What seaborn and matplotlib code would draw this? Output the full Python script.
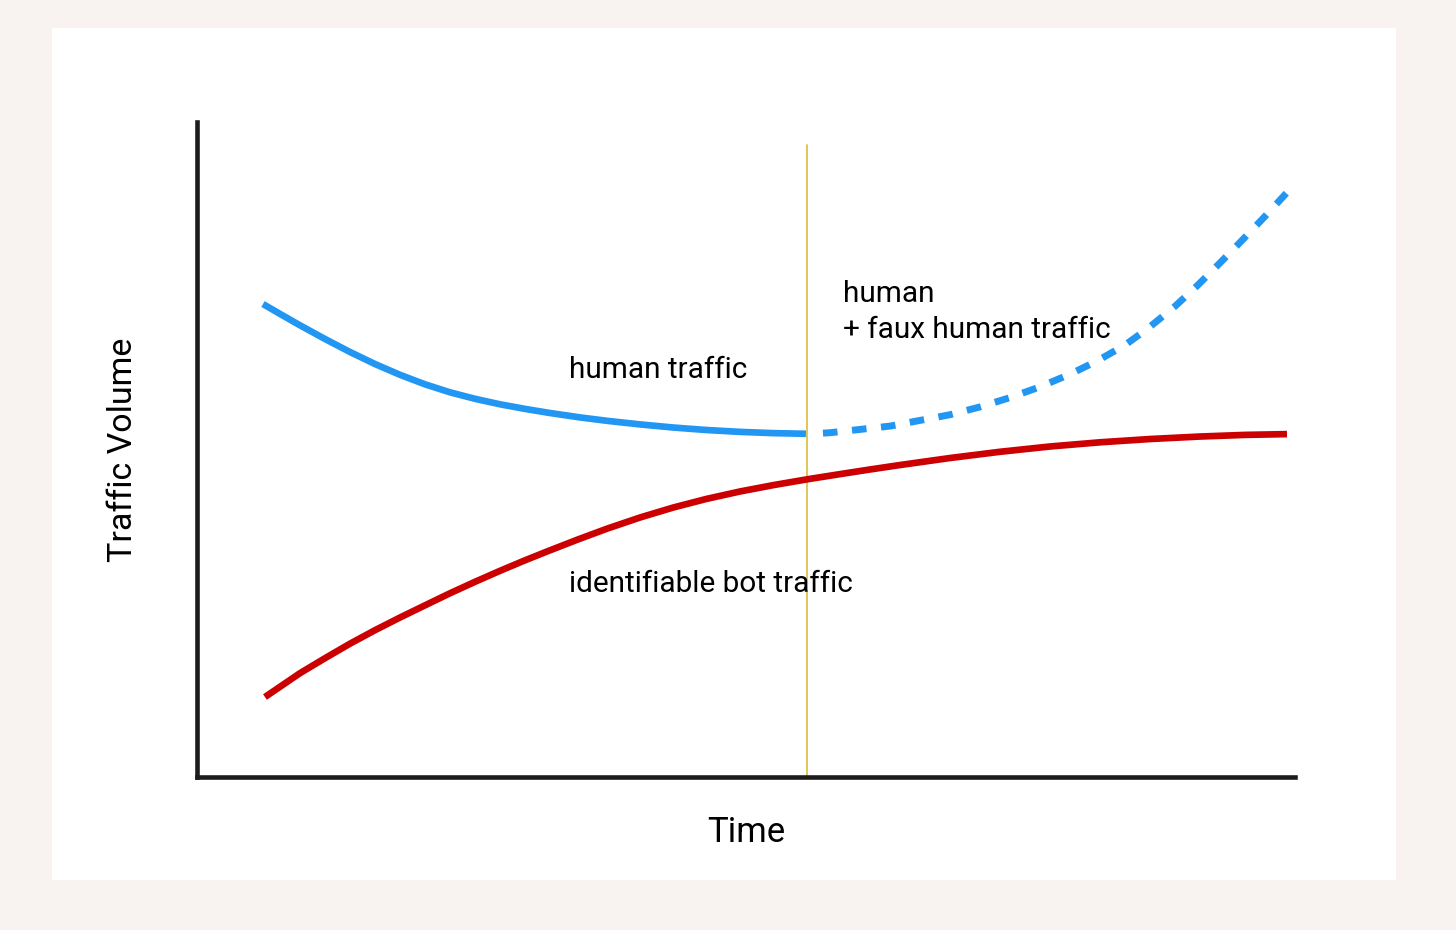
import pandas as pd
import matplotlib
matplotlib.use("Agg")
import matplotlib.pyplot as plt
from matplotlib.patches import Rectangle
import seaborn as sns

# values (time and volume on a 0-10 scale)
human_time = [0.601, 0.756, 0.938, 1.166, 1.393, 1.621, 1.849, 2.077, 2.304,
              2.532, 2.760, 2.987, 3.215, 3.488, 3.734, 4.035, 4.335, 4.636,
              4.945, 5.246, 5.546]
human_volume = [7.221, 7.070, 6.896, 6.687, 6.489, 6.305, 6.140, 5.995, 5.873,
                5.774, 5.690, 5.620, 5.557, 5.490, 5.438, 5.383, 5.336, 5.298,
                5.269, 5.250, 5.240]

faux_time = [5.701, 5.765, 6.311, 6.858, 7.131, 7.404, 7.678, 7.951, 8.197,
             8.452, 8.661, 8.907, 9.117, 9.317, 9.526, 9.727, 9.954]
faux_volume = [5.250, 5.256, 5.357, 5.531, 5.650, 5.792, 5.957, 6.150, 6.351,
               6.595, 6.849, 7.186, 7.513, 7.849, 8.208, 8.560, 8.973]

bot_time = [0.619, 0.774, 0.938, 1.166, 1.393, 1.621, 1.849, 2.077, 2.304,
            2.532, 2.760, 2.987, 3.197, 3.470, 3.734, 4.035, 4.335, 4.636,
            4.945, 5.255, 5.565, 5.856, 6.129, 6.403, 6.858, 7.313, 7.769,
            8.224, 8.680, 9.135, 9.545, 9.927]
bot_volume = [1.221, 1.398, 1.585, 1.814, 2.035, 2.241, 2.435, 2.621, 2.805,
              2.980, 3.148, 3.308, 3.449, 3.627, 3.791, 3.962, 4.113, 4.244,
              4.359, 4.458, 4.547, 4.624, 4.695, 4.763, 4.870, 4.965, 5.046,
              5.110, 5.160, 5.198, 5.223, 5.235]

event_time = 5.56

human = pd.DataFrame({"time": human_time, "volume": human_volume})
faux = pd.DataFrame({"time": faux_time, "volume": faux_volume})
bot = pd.DataFrame({"time": bot_time, "volume": bot_volume})

sns.set_theme(style="white")
plt.rcParams["font.family"] = ["Roboto", "DejaVu Sans"]
plt.rcParams["text.color"] = "black"
plt.rcParams["axes.labelcolor"] = "black"

fig = plt.figure(figsize=(14.56, 9.3), dpi=100)
fig.patch.set_facecolor("#f8f2f1")
fig.add_artist(Rectangle((52 / 1456, 50 / 930), 1344 / 1456, 852 / 930,
                         transform=fig.transFigure, facecolor="white",
                         edgecolor="none", zorder=0))

ax = fig.add_axes([197 / 1456, 153 / 930, 1098 / 1456, 655 / 930])
ax.patch.set_alpha(0)

sns.lineplot(data=human, x="time", y="volume", sort=False, ax=ax,
             color="#2196f3", linewidth=4.8, solid_capstyle="butt",
             solid_joinstyle="round")
sns.lineplot(data=faux, x="time", y="volume", sort=False, ax=ax,
             color="#2196f3", linewidth=5.0, linestyle=(0, (2.1, 2.1)),
             dash_capstyle="butt")
sns.lineplot(data=bot, x="time", y="volume", sort=False, ax=ax,
             color="#cc0000", linewidth=4.8, solid_capstyle="butt",
             solid_joinstyle="round")

ax.axvline(event_time, ymin=0, ymax=0.965, color="#d9bc3a", linewidth=1.2,
           zorder=1)

ax.text(3.39, 6.21, "human traffic", fontsize=21.4, va="center", ha="left")
ax.text(5.88, 7.10, "human\n+ faux human traffic", fontsize=21.4, va="center",
        ha="left", linespacing=1.36)
ax.text(3.39, 2.95, "identifiable bot traffic", fontsize=21.4, va="center",
        ha="left")

ax.set_xlim(0, 10)
ax.set_ylim(0, 10)
ax.set_xticks([])
ax.set_yticks([])
ax.set_xlabel("Time", fontsize=25, labelpad=28)
ax.set_ylabel("Traffic Volume", fontsize=24.5, labelpad=42)

sns.despine(ax=ax)
for side in ["left", "bottom"]:
    ax.spines[side].set_linewidth(3.3)
    ax.spines[side].set_color("#1c1c1c")
    ax.spines[side].set_capstyle("projecting")

fig.savefig("out.png", dpi=100, facecolor=fig.get_facecolor())
